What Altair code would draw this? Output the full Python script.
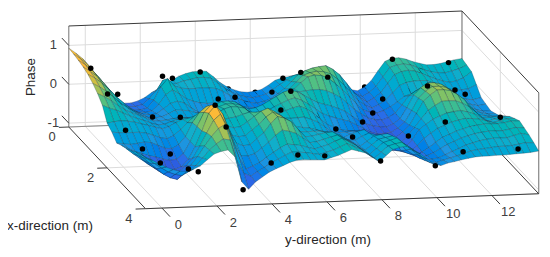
import altair as alt
import pandas as pd

# surface heights (row = x-direction knot, column = y-direction knot)
X_KNOTS = [0, .25, .5, .75, 1, 1.25, 1.5, 1.75, 2, 2.25, 2.5, 2.75, 3, 3.25, 3.5, 3.75, 4]
Y_KNOTS = [-.6, -.35, -.1, .15, .4, .65, .9, 1.15, 1.4, 1.65, 1.9, 2.15, 2.4, 2.65, 2.9, 3.15, 3.4, 3.65, 3.9, 4.15, 4.4, 4.65, 4.9, 5.15, 5.4, 5.65, 5.9, 6.15, 6.4, 6.65, 6.9, 7.15, 7.4, 7.65, 7.9, 8.15, 8.4, 8.65, 8.9, 9.15, 9.4, 9.65, 9.9, 10.15, 10.4, 10.65, 10.9, 11.15, 11.4, 11.65, 11.9, 12.15, 12.4, 12.65, 12.9, 13.15, 13.4, 13.7]
Z_ROWS = [
[.93,.80,.65,.42, .15,-.12,-.38,-.48, -.54,-.54,-.50,-.42, -.30,-.20,-.10,.00, .10,.16,.20,.21, .20,.06,-.10,-.22, -.30,-.36,-.38,-.36, -.32,-.22,-.10,-.05, -.02,-.01,0,-.02, -.05,-.15,-.25,-.30, -.35,-.41,-.45,-.36, -.20,.05,.28,.35, .36,.32,.25,.20, .15,.15,.17,.21, .25,.28],
[.91,.78,.64,.42, .18,-.08,-.32,-.43, -.50,-.50,-.46,-.32, -.12,.15,.02,.05, .11,.14,.18,.18, .15,.02,-.12,-.23, -.31,-.36,-.39,-.36, -.31,-.20,-.08,.03, .14,.19,.22,.23, .22,.12,.00,-.14, -.28,-.39,-.47,-.37, -.22,.02,.25,.31, .33,.30,.23,.16, .10,.07,.06,.10, .15,.24],
[.88,.76,.62,.42, .20,-.05,-.25,-.38, -.45,-.46,-.42,-.22, .12,.32,.12,.06, .04,.04,.05,.04, .02,-.06,-.17,-.25, -.32,-.37,-.40,-.36, -.30,-.18,-.05,.12, .30,.39,.45,.48, .50,.40,.25,.03, -.20,-.36,-.48,-.38, -.25,-.02,.20,.27, .30,.27,.20,.12, .05,-.01,-.05,-.02, .05,.20],
[.84,.72,.59,.40, .20,-.01,-.19,-.31, -.38,-.39,-.36,-.20, .04,.16,.05,-.08, -.15,-.20,-.22,-.22, -.25,-.30,-.32,-.34, -.36,-.38,-.38,-.31, -.20,-.07,.07,.24, .41,.47,.50,.48, .42,.28,.11,-.10, -.30,-.42,-.50,-.42, -.31,-.13,.05,.12, .15,.16,.15,.08, .00,-.07,-.12,-.12, -.10,.00],
[.78,.68,.55,.38, .20,.04,-.12,-.23, -.30,-.32,-.30,-.18, -.05,.00,-.05,-.18, -.30,-.32,-.32,-.33, -.33,-.35,-.36,-.38, -.40,-.39,-.35,-.25, -.10,.05,.20,.36, .50,.54,.52,.44, .30,.13,-.05,-.23, -.40,-.47,-.50,-.44, -.35,-.23,-.10,-.04, .00,.05,.10,.03, -.05,-.13,-.20,-.23, -.25,-.20],
[.68,.58,.46,.31, .15,.03,-.09,-.18, -.25,-.27,-.25,-.18, -.09,-.10,-.12,-.18, -.20,-.16,-.10,-.10, -.12,-.15,-.18,-.17, -.15,-.10,-.03,.08, .18,.23,.26,.28, .30,.30,.26,.18, .08,-.08,-.23,-.36, -.48,-.53,-.55,-.49, -.38,-.18,.05,.17, .25,.27,.28,.18, .08,-.05,-.18,-.23, -.27,-.24],
[.55,.46,.35,.22, .10,.02,-.05,-.13, -.20,-.22,-.20,-.17, -.15,-.16,-.15,-.06, .05,.15,.22,.23, .20,.09,.00,.03, .10,.20,.30,.40, .45,.40,.30,.20, .10,.05,.00,-.07, -.15,-.28,-.40,-.49, -.55,-.58,-.60,-.52, -.40,-.12,.20,.38, .50,.50,.45,.34, .20,.03,-.15,-.23, -.28,-.28],
[.38,.30,.24,.16, .08,.01,-.05,-.12, -.18,-.17,-.11,-.06, -.03,-.06,-.08,.02, .13,.23,.29,.29, .25,.12,.00,.03, .08,.17,.25,.33, .38,.31,.20,.08, -.05,-.12,-.18,-.23, -.28,-.38,-.48,-.57, -.63,-.62,-.60,-.50, -.35,-.06,.25,.42, .54,.54,.50,.39, .25,.06,-.13,-.18, -.22,-.22],
[.05,.08,.10,.08, .05,.00,-.05,-.10, -.15,-.10,.00,.07, .10,.05,.00,.10, .20,.30,.35,.34, .30,.15,.00,.02, .05,.13,.20,.26, .30,.22,.10,-.05, -.20,-.28,-.35,-.38, -.40,-.48,-.55,-.64, -.70,-.66,-.60,-.47, -.30,.00,.30,.46, .58,.58,.55,.44, .30,.10,-.10,-.13, -.15,-.15],
[-.05,-.07,-.08,-.08, -.08,-.11,-.17,-.24, -.27,-.20,-.05,.12, .28,.33,.24,.18, .16,.19,.22,.28, .33,.32,.28,.24, .18,.15,.13,.14, .15,.08,.00,-.13, -.27,-.28,-.28,-.26, -.25,-.36,-.47,-.59, -.68,-.66,-.60,-.44, -.23,-.01,.20,.32, .42,.43,.42,.35, .25,.10,-.05,-.04, -.02,-.02],
[-.20,-.23,-.25,-.23, -.20,-.22,-.30,-.38, -.40,-.30,-.10,.25, .50,.65,.50,.28, .12,.08,.10,.22, .35,.48,.55,.45, .30,.16,.05,.02, .00,-.05,-.10,-.22, -.35,-.28,-.20,-.14, -.10,-.25,-.40,-.54, -.65,-.65,-.60,-.40, -.15,-.02,.10,.18, .25,.28,.30,.26, .20,.10,.00,.05, .10,.10],
[-.13,-.22,-.30,-.36, -.42,-.46,-.52,-.56, -.54,-.40,-.10,.28, .64,.82,.62,.30, .03,-.02,.00,.14, .28,.46,.58,.50, .38,.20,.05,.04, .05,.04,.02,-.08, -.20,-.21,-.22,-.13, -.05,-.11,-.18,-.36, -.53,-.57,-.58,-.43, -.25,-.12,.00,.07, .15,.19,.23,.22, .20,.15,.10,.13, .18,.18],
[-.08,-.22,-.35,-.48, -.60,-.66,-.68,-.66, -.60,-.42,-.10,.30, .75,.95,.72,.30, -.05,-.12,-.10,.05, .20,.42,.60,.55, .45,.25,.05,.06, .10,.13,.15,.06, -.05,-.15,-.25,-.13, .00,.03,.05,-.17, -.40,-.48,-.55,-.46, -.35,-.22,-.10,-.03, .05,.10,.15,.18, .20,.20,.20,.22, .25,.25],
[.00,-.13,-.28,-.42, -.55,-.63,-.67,-.58, -.45,-.25,.05,.38, .70,.85,.52,.08, -.25,-.25,-.20,-.06, .08,.25,.38,.34, .28,.15,.03,.05, .10,.15,.20,.10, .00,-.12,-.22,-.09, .05,.09,.12,-.06, -.25,-.37,-.48,-.42, -.35,-.25,-.15,-.08, .00,.05,.10,.13, .15,.15,.15,.18, .22,.20],
[.10,-.05,-.20,-.35, -.50,-.60,-.65,-.50, -.30,-.08,.18,.42, .62,.72,.30,-.15, -.45,-.38,-.30,-.17, -.05,.06,.15,.13, .10,.05,.00,.05, .10,.18,.25,.15, .05,-.08,-.20,-.05, .10,.15,.20,.05, -.10,-.25,-.40,-.38, -.35,-.28,-.20,-.13, -.05,.00,.05,.08, .10,.10,.10,.15, .20,.15],
[.17,.05,-.08,-.20, -.31,-.38,-.42,-.32, -.18,.01,.21,.36, .48,.45,-.10,-.42, -.50,-.39,-.29,-.18, -.09,.00,.08,.07, .05,.02,-.01,.04, .09,.16,.24,.16, .08,-.04,-.16,-.01, .14,.19,.22,.10, -.03,-.18,-.32,-.33, -.28,-.23,-.18,-.13, -.07,-.04,-.02,.00, .02,.02,.03,.06, .09,.08],
[.23,.14,.04,-.05, -.12,-.17,-.18,-.13, -.05,.10,.24,.30, .33,.15,-.50,-.70, -.52,-.40,-.28,-.20, -.13,-.05,.00,.01, .00,-.01,-.02,.03, .08,.15,.22,.17, .12,.00,-.12,.03, .18,.23,.25,.15, .04,-.10,-.24,-.28, -.22,-.19,-.15,-.12, -.09,-.08,-.08,-.07, -.07,-.06,-.05,-.04, -.03,.00],
]

# black sample markers: x, y, z
DOT_X = [0,0,.3,.4,.1,.1,1.5,1.5,2,2.1,1.9,3,3,.7,.5,.7,.9,1.5,2.7,.1,.1,1.5,1.5,1,1.5,2,2,2.5,2.5,2,3.5,3.5,4,4,4,4,3.7,3.7,3.9,3.5,4,3.5,4,3.5,3.7]
DOT_Y = [.2,.81,.97,2.53,3.1,4.11,1.4,2.41,.07,3.37,4.12,2.63,3.03,6.3,6.84,7.35,8.19,6.43,5.23,11.1,13.14,11.4,12.4,13.12,9.77,9.06,8.69,7.37,11.35,13.7,-.36,.65,-.06,.96,1.32,2.95,4.18,5.15,5.99,7.28,7.95,9.31,9.94,11.3,13.16]
DOT_Z = [.39,-.29,-.14,.33,.11,.24,-.11,-.14,-.15,.62,.54,.95,.38,-.02,.22,.46,.42,.42,.6,.38,.24,.42,.29,-.1,.13,.05,-.17,-.05,.02,-.18,.17,.01,.06,-.12,-.2,-.71,-.21,-.03,.03,.27,-.1,.24,-.28,-.22,-.09]
HID_X = [1.2,.4,.4,.3,.5,1,1.5,3,3.9]
HID_Y = [5.01,4.92,5.9,11.98,9.81,11.13,7.45,9.01,9.4]
HID_Z = [-.01,-.06,-.17,.18,-.09,.06,-.22,-.12,.02]

X_TICKS = [0, 2, 4]
Y_TICKS = [0, 2, 4, 6, 8, 10, 12]
Z_TICKS = [-1, 0, 1]
XMIN, XMAX, YMIN, YMAX, ZMIN, ZMAX = 0, 4, -0.6, 13.7, -1.1, 1.5
COLOR_Z = [-.85, -.5, -.22, .08, .27, .42, .6, .8, 1.05]
COLOR_HEX = ["#3a30c8", "#2b6ce8", "#1f96e0", "#14aecb", "#22b8a8", "#55c080", "#b5c050", "#fcb838", "#f9e020"]

U = "69 + 19.25*datum.x + 27.6*(datum.y + 0.6)"
V = "127 + 20.5*datum.x - 1.05*(datum.y + 0.6) - 39*(datum.z + 1.1)"
xs = alt.Scale(domain=[8, 544], nice=False, zero=False)
ys = alt.Scale(domain=[8, 249], nice=False, zero=False, reverse=True)
XE = alt.X("u:Q", scale=xs, axis=None)
YE = alt.Y("v:Q", scale=ys, axis=None)

# polygons, far to near
rows = []
pid = 0
for i in range(len(X_KNOTS) - 1):
    for j in range(len(Y_KNOTS) - 2, -1, -1):
        corners = [(i, j), (i + 1, j), (i + 1, j + 1), (i, j + 1), (i, j)]
        c = sum(Z_ROWS[a][b] for a, b in corners[:4]) / 4
        for k, (a, b) in enumerate(corners):
            rows.append({"pid": pid, "k": k, "x": X_KNOTS[a], "y": Y_KNOTS[b], "z": Z_ROWS[a][b], "c": c})
        pid += 1
surf = pd.DataFrame(rows)

def seg_df(segs):
    out = []
    for n, (p, q) in enumerate(segs):
        for k, t in enumerate((p, q)):
            out.append({"s": n, "k": k, "x": t[0], "y": t[1], "z": t[2]})
    return pd.DataFrame(out)

def lines(segs, color, width):
    return alt.Chart(seg_df(segs)).transform_calculate(u=U, v=V).mark_line(
        color=color, strokeWidth=width).encode(x=XE, y=YE, detail="s:N", order="k:Q")

grid = []
for t in Y_TICKS:
    grid.append(((XMIN, t, ZMIN), (XMIN, t, ZMAX)))
    grid.append(((XMIN, t, ZMIN), (XMAX, t, ZMIN)))
for t in X_TICKS:
    grid.append(((t, YMIN, ZMIN), (t, YMAX, ZMIN)))
    grid.append(((t, YMAX, ZMIN), (t, YMAX, ZMAX)))
for t in Z_TICKS:
    grid.append(((XMIN, YMIN, t), (XMIN, YMAX, t)))
    grid.append(((XMIN, YMAX, t), (XMAX, YMAX, t)))

frame_grey = [((XMIN, YMIN, ZMIN), (XMIN, YMAX, ZMIN)),
              ((XMIN, YMAX, ZMIN), (XMIN, YMAX, ZMAX)),
              ((XMIN, YMIN, ZMIN), (XMIN, YMIN, ZMAX)),
              ((XMAX, YMAX, ZMIN), (XMAX, YMAX, ZMAX))]
frame_dark = [((XMIN, YMIN, ZMAX), (XMIN, YMAX, ZMAX)),
              ((XMIN, YMAX, ZMAX), (XMAX, YMAX, ZMAX)),
              ((XMAX, YMIN, ZMIN), (XMAX, YMAX, ZMIN)),
              ((XMIN, YMIN, ZMIN), (XMAX, YMIN, ZMIN)),
              ((XMIN, YMAX, ZMIN), (XMAX, YMAX, ZMIN))]
ticks = []
for t in X_TICKS:
    ticks.append(((t, YMIN, ZMIN), (t, YMIN - 0.36, ZMIN)))
for t in Y_TICKS:
    ticks.append(((XMAX, t, ZMIN), (XMAX + 0.42, t, ZMIN)))
for t in Z_TICKS:
    ticks.append(((XMIN, YMIN, t), (XMIN - 0.36, YMIN, t)))

labels = pd.DataFrame(
    [{"t": str(t), "x": XMIN, "y": YMIN - 0.56, "z": t + 0.02, "a": 0} for t in Z_TICKS]
    + [{"t": str(t), "x": t + 0.28, "y": YMIN - 0.8, "z": ZMIN - 0.1, "a": 0} for t in X_TICKS]
    + [{"t": str(t), "x": XMAX + 0.85, "y": t, "z": ZMIN + 0.02, "a": 0} for t in Y_TICKS]
)
label_layer = alt.Chart(labels).transform_calculate(u=U, v=V).mark_text(
    font="Liberation Sans", fontSize=13, color="#404040").encode(x=XE, y=YE, text="t:N")

titles = pd.DataFrame([
    {"t": "Phase", "x": -0.5, "y": -1.63, "z": -0.05, "a": 270},
    {"t": "x-direction (m)", "x": 4.9, "y": -4.7, "z": -0.95, "a": 0},
    {"t": "y-direction (m)", "x": 5.0, "y": 5.34, "z": -1.55, "a": 0},
])
title_layer = alt.layer(*[
    alt.Chart(titles[titles.a == a]).transform_calculate(u=U, v=V).mark_text(
        font="Liberation Sans", fontSize=13.5, color="#262626", angle=a).encode(x=XE, y=YE, text="t:N")
    for a in (0, 270)
])

surface = alt.Chart(surf).transform_calculate(u=U, v=V).mark_line(
    filled=True, stroke="#14283a", strokeWidth=0.35, strokeOpacity=0.75, interpolate="linear"
).encode(
    x=XE, y=YE, detail=alt.Detail("pid:Q"), order="k:Q",
    fill=alt.Fill("c:Q", scale=alt.Scale(domain=COLOR_Z, range=COLOR_HEX), legend=None),
)

def dots(xv, yv, zv):
    return alt.Chart(pd.DataFrame({"x": xv, "y": yv, "z": zv})).transform_calculate(u=U, v=V).mark_point(
        filled=True, color="black", size=30, opacity=1).encode(x=XE, y=YE)

chart = alt.layer(
    lines(grid, "#dcdcdc", 1),
    lines(frame_grey, "#8a8a8a", 1.2),
    lines(frame_dark, "#3a3a3a", 1),
    lines(ticks, "#3a3a3a", 1),
    label_layer,
    title_layer,
    dots(HID_X, HID_Y, HID_Z),
    surface,
    dots(DOT_X, DOT_Y, DOT_Z),
).properties(width=536, height=241, padding=0, autosize=alt.AutoSizeParams(type="none")).configure_view(stroke=None)

chart.save("out.html", embed_options={"renderer": "svg", "actions": False})
